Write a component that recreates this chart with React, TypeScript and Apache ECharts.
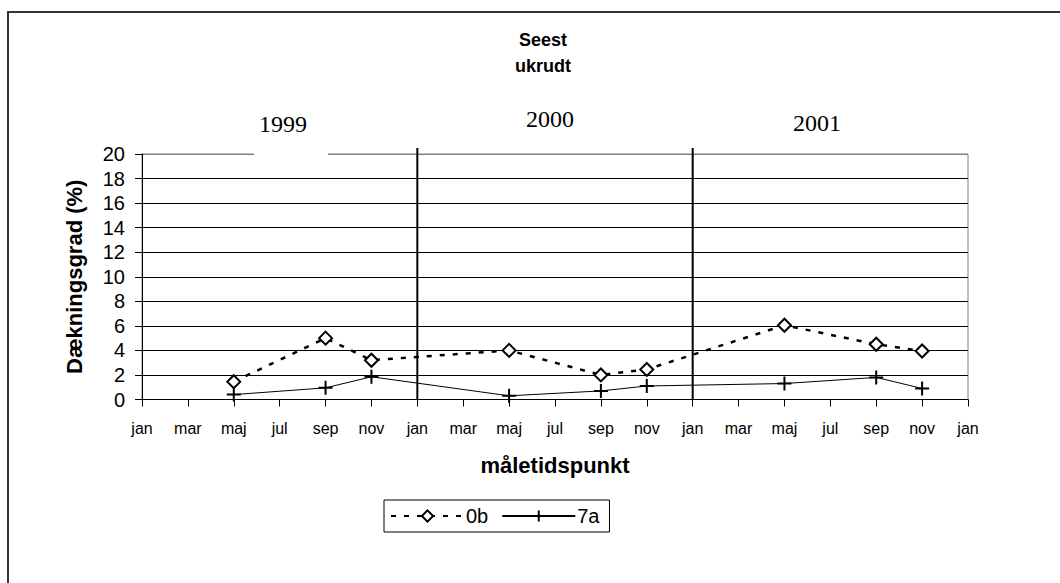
import React, { useEffect, useRef } from "react";
import * as echarts from "echarts";

// months counted from January 1999 (0 = jan 1999, 36 = jan 2002)
const monthLabels = ["jan", "mar", "maj", "jul", "sep", "nov"];
const sampleMonths = [4, 8, 10, 16, 20, 22, 28, 32, 34];
const values0b = [1.45, 5.0, 3.2, 4.0, 2.0, 2.45, 6.05, 4.5, 3.95];
const values7a = [0.4, 0.95, 1.85, 0.3, 0.7, 1.1, 1.3, 1.8, 0.9];
const seriesNames = ["0b", "7a"];
const yearLabels = ["1999", "2000", "2001"];
const yearDividers = [12, 24];
const splitColors = ["#000", "#000", "#000", "#000", "#000", "#000", "#000", "#000", "#000", "#000", "#808080"];

export default function App() {
  const ref = useRef<HTMLDivElement>(null);
  useEffect(() => {
    const el = ref.current!;
    const chart = echarts.init(el, null, { renderer: "svg" });
    const font = "'Liberation Sans', Arial, sans-serif";
    const black = "#000";
    chart.setOption({
      animation: false,
      title: {
        text: "Seest\nukrudt",
        left: 538,
        top: 22,
        textAlign: "center",
        textStyle: { fontFamily: font, fontWeight: "bold", fontSize: 18, lineHeight: 26, color: black },
      },
      grid: { left: 142, right: 92, top: 154, bottom: 183.5, show: true, borderColor: "#808080", borderWidth: 1 },
      xAxis: {
        type: "value",
        min: 0,
        max: 36,
        interval: 2,
        axisLine: { show: true, onZero: false, lineStyle: { color: black, width: 1 } },
        axisTick: { show: true, length: 7, lineStyle: { color: black } },
        axisLabel: {
          margin: 21,
          fontFamily: font,
          fontSize: 16,
          color: black,
          formatter: (v: number) => monthLabels[(v % 12) / 2],
        },
        splitLine: { show: false },
        name: "måletidspunkt",
        nameLocation: "middle",
        nameGap: 55,
        nameTextStyle: { fontFamily: font, fontWeight: "bold", fontSize: 22, color: black },
      },
      yAxis: {
        type: "value",
        min: 0,
        max: 20,
        interval: 2,
        axisLine: { show: true, lineStyle: { color: black, width: 1 } },
        axisTick: { show: true, length: 7, lineStyle: { color: black } },
        axisLabel: { margin: 17, fontFamily: font, fontSize: 20, color: black },
        splitLine: { show: true, lineStyle: { color: splitColors, width: 1 } },
        name: "Dækningsgrad (%)",
        nameLocation: "middle",
        nameGap: 57,
        nameTextStyle: { fontFamily: font, fontWeight: "bold", fontSize: 22, color: black },
      },
      legend: {
        left: 384,
        top: 500,
        data: seriesNames,
        itemWidth: 73,
        itemHeight: 14,
        itemGap: 13,
        padding: [6, 10, 6, 6],
        borderColor: black,
        borderWidth: 1,
        textStyle: { fontFamily: font, fontSize: 20, color: black, padding: [0, 0, 0, -3] },
      },
      series: [
        {
          name: seriesNames[0],
          type: "line",
          data: sampleMonths.map((m, i) => [m, values0b[i]]),
          symbol: "diamond",
          symbolSize: 13,
          itemStyle: { color: "#fff", borderColor: black, borderWidth: 2 },
          lineStyle: { color: black, width: 2.5, type: [5, 8] },
          z: 4,
        },
        {
          name: seriesNames[1],
          type: "line",
          data: sampleMonths.map((m, i) => [m, values7a[i]]),
          symbol: "path://M7,0L7,14M0,7L14,7",
          symbolSize: 14,
          itemStyle: { color: "transparent", borderColor: black, borderWidth: 2 },
          lineStyle: { color: black, width: 1 },
          z: 3,
        },
      ],
    });

    const px = (m: number) => chart.convertToPixel({ xAxisIndex: 0 }, m) as number;
    const py = (v: number) => chart.convertToPixel({ yAxisIndex: 0 }, v) as number;
    const yTop = py(20);
    const yBottom = py(0);
    const yearPos = [
      { x: 283, y: 124 },
      { x: 550, y: 119 },
      { x: 817, y: 123 },
    ];
    chart.setOption({
      graphic: [
        {
          type: "rect",
          z: 0,
          silent: true,
          shape: { x: 8, y: 12, width: 1200, height: 700 },
          style: { fill: "none", stroke: "#333", lineWidth: 2 },
        },
        {
          type: "rect",
          z: 5,
          silent: true,
          shape: { x: 254, y: yTop - 1.5, width: 74, height: 3 },
          style: { fill: "#fff" },
        },
        ...yearDividers.map((m) => ({
          type: "line",
          z: 6,
          silent: true,
          shape: { x1: px(m), y1: yTop - 6, x2: px(m), y2: yBottom },
          style: { stroke: black, lineWidth: 2 },
        })),
        ...yearLabels.map((t, i) => ({
          type: "text",
          z: 6,
          silent: true,
          x: yearPos[i].x,
          y: yearPos[i].y,
          style: {
            text: t,
            fill: black,
            font: "24px 'Liberation Serif'",
            textAlign: "center",
            textVerticalAlign: "middle",
          },
        })),
      ],
    });
    return () => chart.dispose();
  }, []);
  return <div ref={ref} style={{ position: "fixed", left: 0, top: 0, width: 1060, height: 583, background: "#fff" }} />;
}
